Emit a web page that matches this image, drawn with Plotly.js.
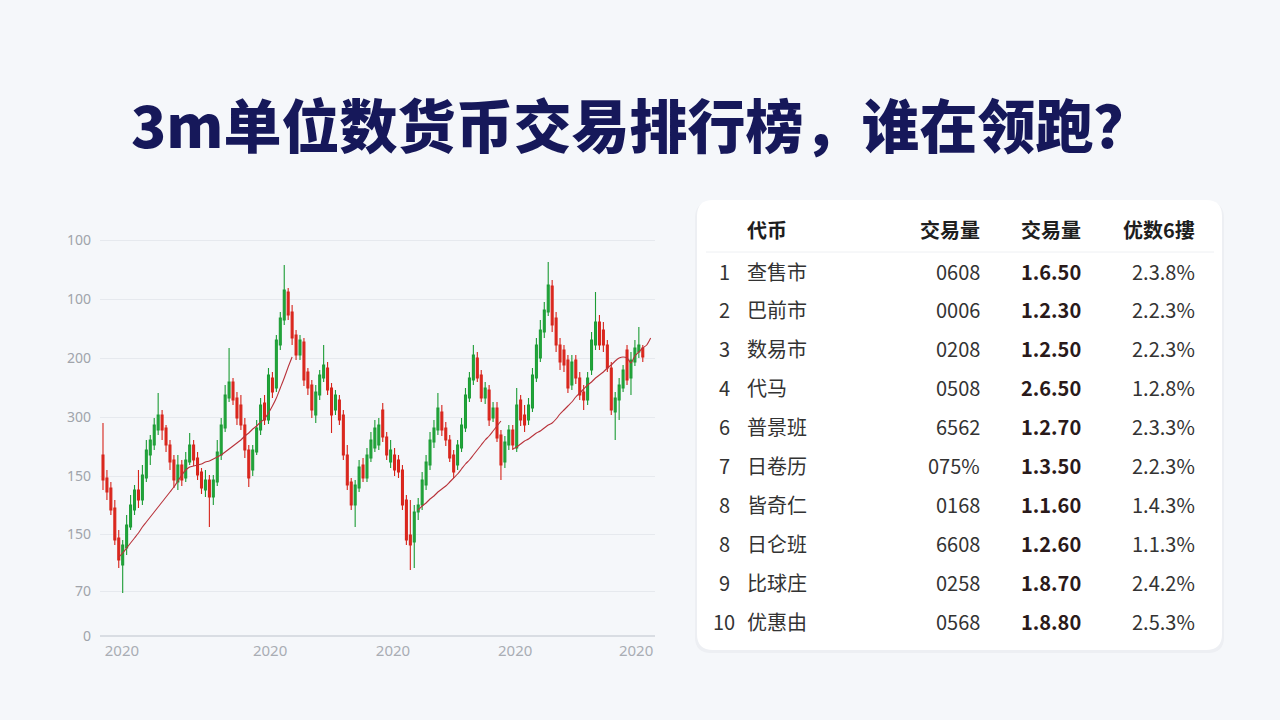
<!DOCTYPE html>
<html>
<head>
<meta charset="utf-8">
<script src="https://cdn.plot.ly/plotly-3.0.1.min.js"></script>
<style>
  html, body { margin: 0; padding: 0; background: #f4f6f9; }
  #chart { width: 1280px; height: 720px; }
</style>
</head>
<body>
<div id="chart"></div>
<script>
// ---------- chart data ----------
const chartTitle = "3m单位数货币交易排行榜，谁在领跑？";

const candleOpen = [181,158,148,128,98,71,88,109,126,146,136,158,181,191,206,221,208,191,176,154,171,158,174,191,178,164,146,156,139,154,181,208,238,254,238,231,211,186,166,184,206,233,216,258,248,291,316,344,324,301,281,294,264,251,221,241,258,268,248,226,236,221,181,154,131,148,171,158,178,188,191,226,199,174,181,176,166,136,101,94,124,131,151,171,194,206,224,208,196,181,171,188,208,238,256,278,261,238,246,218,228,201,174,191,206,188,236,221,216,228,258,278,304,324,350,318,291,286,276,251,276,258,244,236,266,291,314,306,291,268,224,236,248,286,258,274,284,288];
const candleHigh = [213,166,154,136,106,96,121,141,151,166,171,196,201,218,243,226,211,196,181,181,176,184,203,196,184,168,166,161,161,196,218,251,288,258,244,241,218,191,191,216,238,241,268,264,301,324,371,348,331,306,301,298,268,256,251,266,291,274,253,246,241,226,191,158,156,176,178,188,204,216,218,233,204,196,188,181,171,141,136,131,138,164,181,204,216,243,231,214,201,186,196,218,248,264,291,284,266,254,251,234,234,206,200,211,211,248,241,231,238,268,298,316,334,374,356,324,298,291,281,281,281,264,251,264,304,344,321,314,296,274,244,258,271,291,284,296,309,291];
const candleLow = [146,136,121,91,68,43,81,106,121,128,131,154,171,186,201,196,184,166,148,146,150,154,171,170,156,142,139,109,131,150,176,204,234,231,211,206,178,149,160,181,201,211,212,238,244,286,311,316,291,276,276,250,241,218,213,236,254,241,203,221,211,176,146,126,109,144,154,154,174,184,186,194,176,168,160,158,126,91,66,68,116,126,146,166,188,201,200,190,174,158,166,184,204,234,251,254,234,232,210,214,194,156,168,186,186,184,210,204,211,224,254,274,298,320,304,284,266,264,243,246,252,236,226,231,261,286,286,284,264,221,196,216,244,251,241,270,278,274];
const candleClose = [156,144,126,96,76,91,111,131,146,136,161,186,196,211,221,206,191,174,156,171,156,176,191,176,161,148,156,139,156,184,211,241,254,236,218,211,186,158,186,208,231,216,261,244,296,318,346,321,298,281,296,256,248,226,244,261,271,246,221,241,216,181,151,131,151,169,158,181,196,208,211,199,181,186,166,164,131,96,91,124,131,156,174,196,208,228,206,196,178,164,191,211,241,258,281,258,238,248,216,228,198,171,194,206,191,231,216,211,231,261,291,306,326,351,311,291,274,271,248,274,258,241,236,258,296,314,291,291,268,226,238,251,266,256,276,288,291,279];

// moving-average line (segments separated by null)
const maIndex = [4,5,6,7,8,9,10,11,12,13,14,15,16,17,18,19,20,21,22,23,24,25,26,27,28,29,30,31,32,33,34,35,36,37,38,39,40,41,42,43,44,45,46,47,48,49,
  80,81,82,83,84,85,86,87,88,89,90,91,92,93,94,95,96,97,98,99,100,101,102,
  104,105,106,107,108,109,110,111,112,113,114,115,116,117,118,119,120,121,122,123,124,125,126,127,128,129,130,131,132,133,134,135,136,137,138,139];
const maValue = [79,83,88,93,98,103,109,114,119,124,129,134,139,144,149,155,161,166,169,170,171,172,174,175,177,179,181,184,187,190,193,196,200,203,207,210,214,217,223,230,238,248,258,269,279,null,
  126,130,133,137,140,144,147,150,154,158,162,167,172,176,181,186,191,196,200,205,210,215,null,
  187,189,192,195,197,200,203,205,208,211,213,217,222,226,230,234,239,243,247,251,254,258,261,264,268,271,275,278,279,278,273,280,284,288,291,298];

// axis ticks
const yTickVals = [0,45,102,160,219,278,337,396];
const yTickText = ["0","70","150","150","300","200","100","100"];
const xTickVals = [4.8,42.4,73.6,104.6,135.3];
const xTickText = ["2020","2020","2020","2020","2020"];

// ---------- table data ----------
const tableHeaders = ["代币","交易量","交易量","优数6摟"];
const ranks = ["1","2","3","4","6","7","8","8","9","10"];
const coinNames = ["查售市","巴前市","数易市","代马","普景班","日卷历","皆奇仁","日仑班","比球庄","优惠由"];
const volumeA = ["0608","0006","0208","0508","6562","075%","0168","6608","0258","0568"];
const volumeB = ["1.6.50","1.2.30","1.2.50","2.6.50","1.2.70","1.3.50","1.1.60","1.2.60","1.8.70","1.8.80"];
const shareC = ["2.3.8%","2.2.3%","2.2.3%","1.2.8%","2.3.3%","2.2.3%","1.4.3%","1.1.3%","2.4.2%","2.5.3%"];

// ---------- build ----------
const W = 1280, H = 720;
const px = x => x / W;
const py = y => 1 - y / H;

const candleIdx = candleOpen.map((_, i) => i);

const traces = [
  {
    type: "candlestick",
    x: candleIdx,
    open: candleOpen, high: candleHigh, low: candleLow, close: candleClose,
    increasing: { line: { color: "#1c9c35", width: 1.1 }, fillcolor: "#22a83b" },
    decreasing: { line: { color: "#d6241b", width: 1.1 }, fillcolor: "#e0281e" },
    whiskerwidth: 0,
    hoverinfo: "skip",
    showlegend: false
  },
  {
    type: "scatter", mode: "lines",
    x: maIndex, y: maValue,
    line: { color: "#b8323a", width: 1.1, shape: "spline", smoothing: 0.6 },
    connectgaps: false,
    hoverinfo: "skip",
    showlegend: false
  }
];

const cjk = "Noto Sans CJK SC, Noto Sans, sans-serif";
const annotations = [];
annotations.push({
  xref: "paper", yref: "paper", x: px(641), y: py(123),
  xanchor: "center", yanchor: "middle", showarrow: false,
  text: chartTitle,
  font: { family: cjk, size: 58, color: "#16185a", weight: 900 }
});

const headerY = 230;
const rowY0 = 271, rowStep = 38.9;
const colRank = 724, colName = 745, colA = 982, colB = 1083, colC = 1197;

function cell(text, x, y, anchor, opts) {
  annotations.push(Object.assign({
    xref: "paper", yref: "paper", x: px(x), y: py(y),
    xanchor: anchor, yanchor: "middle", showarrow: false, text: text,
    font: { family: cjk, size: 20, color: "#333333" }
  }, opts || {}));
}
const hdrFont = { family: cjk, size: 20, color: "#1e1e1e", weight: 700 };
cell(tableHeaders[0], colName, headerY, "left", { font: hdrFont });
cell(tableHeaders[1], colA, headerY, "right", { font: hdrFont });
cell(tableHeaders[2], colB, headerY, "right", { font: hdrFont });
cell(tableHeaders[3], colC, headerY, "right", { font: hdrFont });

for (let i = 0; i < ranks.length; i++) {
  const y = rowY0 + i * rowStep;
  cell(ranks[i], colRank, y, "center");
  cell(coinNames[i], colName, y, "left");
  cell(volumeA[i], colA, y, "right");
  cell(volumeB[i], colB, y, "right", { font: { family: cjk, size: 20, color: "#2a1a1a", weight: 700 } });
  cell(shareC[i], colC, y, "right");
}

function roundRect(x0, y0, x1, y1, r) {
  return `M ${px(x0 + r)} ${py(y0)} L ${px(x1 - r)} ${py(y0)} Q ${px(x1)} ${py(y0)} ${px(x1)} ${py(y0 + r)} ` +
         `L ${px(x1)} ${py(y1 - r)} Q ${px(x1)} ${py(y1)} ${px(x1 - r)} ${py(y1)} ` +
         `L ${px(x0 + r)} ${py(y1)} Q ${px(x0)} ${py(y1)} ${px(x0)} ${py(y1 - r)} ` +
         `L ${px(x0)} ${py(y0 + r)} Q ${px(x0)} ${py(y0)} ${px(x0 + r)} ${py(y0)} Z`;
}

const shapes = [
  { type: "path", xref: "paper", yref: "paper", layer: "below",
    path: roundRect(695, 202, 1224, 653, 16),
    fillcolor: "rgba(30,40,70,0.035)", line: { width: 0 } },
  { type: "path", xref: "paper", yref: "paper", layer: "below",
    path: roundRect(697, 200, 1222, 650, 16),
    fillcolor: "#ffffff", line: { width: 0 } },
  { type: "line", xref: "paper", yref: "paper", layer: "below",
    x0: px(706), x1: px(1214), y0: py(252), y1: py(252),
    line: { color: "#eef0f3", width: 1 } }
];

const layout = {
  width: W, height: H,
  margin: { l: 0, r: 0, t: 0, b: 0 },
  paper_bgcolor: "#f5f7fa",
  plot_bgcolor: "rgba(0,0,0,0)",
  showlegend: false,
  xaxis: {
    domain: [px(100), px(655)],
    range: [-0.76, 140.1],
    rangeslider: { visible: false },
    showgrid: false, zeroline: false,
    showline: false,
    tickmode: "array", tickvals: xTickVals, ticktext: xTickText,
    ticks: "", ticklabelstandoff: 0,
    tickfont: { family: "Noto Sans, sans-serif", size: 15, color: "#a9adb4" },
    fixedrange: true
  },
  yaxis: {
    domain: [1 - 640 / H, 1 - 228 / H],
    range: [-4, 408],
    showgrid: true, gridcolor: "#e6e9ee", gridwidth: 1,
    zeroline: true, zerolinecolor: "#d9dde3", zerolinewidth: 1.2,
    showline: false,
    tickmode: "array", tickvals: yTickVals, ticktext: yTickText,
    ticks: "", ticklabelstandoff: 8,
    tickfont: { family: "Noto Sans, sans-serif", size: 14, color: "#a0a4ab" },
    fixedrange: true
  },
  shapes: shapes,
  annotations: annotations
};

Plotly.newPlot("chart", traces, layout, { displayModeBar: false, staticPlot: true });
</script>
</body>
</html>
